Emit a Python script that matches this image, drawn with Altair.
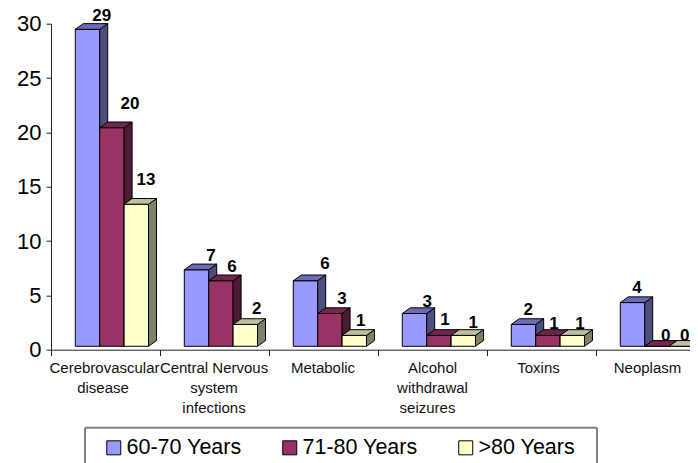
import altair as alt
import pandas as pd

category_lines = [["Cerebrovascular", "disease"], ["Central  Nervous", "system", "infections"], ["Metabolic"],
                  ["Alcohol", "withdrawal", "seizures"], ["Toxins"], ["Neoplasm"]]
# small pixel shifts of each line from its category centre
line_shift = [[-1, -2.5], [-0.5, -0.5, -0.5], [-0.5], [0, 0, -5], [-3], [-3]]
series = ["60-70 Years", "71-80 Years", ">80 Years"]
v1 = [29, 7, 6, 3, 2, 4]
v2 = [20, 6, 3, 1, 1, 0]
v3 = [13, 2, 1, 1, 1, 0]
values = [v1, v2, v3]

fronts = ["#9999FF", "#993366", "#FFFFCC"]
sides = ["#4D4D80", "#4D1A33", "#808066"]
tops = ["#6B6BB8", "#73264D", "#BFBF99"]

# label nudges from each bar's front top centre, in pixels
label_dx = [[14.2, 14.5, 19.5, 12.8, 4.8, 4.5], [18.1, 11, 12, 6, 6, 8.8], [9.7, 11.4, 6.4, 10, 7.7, 3.5]]
label_dy = [[-8.3, -8.8, -11.7, -6.8, -9.4, -9.9], [-18.7, -8.7, -9.5, -10.4, -6.4, -5.6], [-19.2, -10.4, -9.4, -7.7, -6.4, -5.6]]

STEP = 109.0
W, H = 639, 326
YPX = H / 30
BAR_PX = 10.93          # pixels per unit on the front plane
BASE = 3.4 / YPX        # front plane sits above the axis
DX, DY = 8 / STEP, 5.7 / YPX
BW = 24.4 / STEP
START = 24.3 / STEP

front, side, top, labels = [], [], [], []
for j, vals in enumerate(values):
    for i, v in enumerate(vals):
        x0 = i + START + j * BW
        x1 = x0 + BW
        t = v * BAR_PX / YPX + BASE
        b = BASE
        bar = f"{j}-{i}"
        front += [dict(s=series[j], j=j, bar=bar, x=x0, y=t, y2=b), dict(s=series[j], j=j, bar=bar, x=x1, y=t, y2=b)]
        side += [dict(j=j, bar=bar, x=x1, y=t, y2=b), dict(j=j, bar=bar, x=x1 + DX, y=t + DY, y2=b + DY)]
        top += [dict(j=j, bar=bar, x=x0, y=t, y2=t), dict(j=j, bar=bar, x=x0 + DX, y=t, y2=t + DY),
                dict(j=j, bar=bar, x=x1, y=t, y2=t + DY), dict(j=j, bar=bar, x=x1 + DX, y=t + DY, y2=t + DY)]
        labels.append(dict(x=(x0 + x1) / 2 + label_dx[j][i] / STEP, y=t - label_dy[j][i] / YPX, t=str(v)))

front, side, top = map(pd.DataFrame, (front, side, top))
xs = alt.Scale(domain=[0, W / STEP], nice=False, zero=False)
ys = alt.Scale(domain=[0, 30], nice=False)
X = alt.X("x:Q", scale=xs, axis=alt.Axis(values=list(range(6)), labels=False, title=None, grid=False,
                                         tickSize=6, tickColor="#222", domainColor="#222"))
Y = alt.Y("y:Q", scale=ys, axis=alt.Axis(values=[0, 5, 10, 15, 20, 25, 30], title=None, grid=False,
                                         tickSize=5, tickColor="#222", domainColor="#222", labelFontSize=22,
                                         labelFont="Liberation Sans", labelColor="#000", labelPadding=5))

layers = []
for j in range(3):
    layers.append(alt.Chart(front[front.j == j]).mark_area(stroke="black", strokeWidth=1, interpolate="linear").encode(
        x=X, y=Y, y2="y2:Q", detail="bar:N",
        fill=alt.Fill("s:N", scale=alt.Scale(domain=series, range=fronts),
                      legend=alt.Legend(title=None, orient="none", legendX=52, legendY=413, direction="horizontal",
                                        columns=3, symbolType="square", symbolSize=196, symbolStrokeColor="black",
                                        symbolStrokeWidth=1, labelFontSize=21.5, labelFont="Liberation Sans",
                                        labelColor="#000", labelOffset=2, columnPadding=37, padding=0, labelLimit=200))))
    layers.append(alt.Chart(side[side.j == j]).mark_area(color=sides[j], stroke="black", strokeWidth=1, interpolate="linear").encode(
        x=X, y=Y, y2="y2:Q", detail="bar:N"))
    layers.append(alt.Chart(top[top.j == j]).mark_area(color=tops[j], stroke="black", strokeWidth=1, interpolate="linear").encode(
        x=X, y=Y, y2="y2:Q", detail="bar:N"))

label_layer = alt.Chart(pd.DataFrame(labels)).mark_text(font="Liberation Sans", fontSize=17, fontWeight="bold",
                                                        color="black", baseline="alphabetic", align="center", clip=False).encode(
    x=alt.X("x:Q", scale=xs), y=alt.Y("y:Q", scale=ys), text="t:N")

cat_rows = [dict(x=i + 0.5 + line_shift[i][n] / STEP, n=n, t=line)
            for i, lines in enumerate(category_lines) for n, line in enumerate(lines)]
cat_df = pd.DataFrame(cat_rows)
cat_layers = [
    alt.Chart(cat_df[cat_df.n == n]).mark_text(font="Liberation Sans", fontSize=15, color="#111",
                                               baseline="alphabetic", align="center").encode(
        x=alt.X("x:Q", scale=xs), y=alt.value(349.3 + 20 * n), text="t:N")
    for n in range(3)
]

box = "#808080"
box_top = alt.Chart(pd.DataFrame({"a": [0]})).mark_rule(color=box, strokeWidth=2).encode(
    x=alt.value(34), x2=alt.value(546), y=alt.value(404))
box_l = alt.Chart(pd.DataFrame({"a": [0]})).mark_rule(color=box, strokeWidth=2).encode(
    x=alt.value(34), y=alt.value(404), y2=alt.value(445))
box_r = alt.Chart(pd.DataFrame({"a": [0]})).mark_rule(color=box, strokeWidth=2).encode(
    x=alt.value(546), y=alt.value(404), y2=alt.value(445))

chart = alt.layer(*layers, label_layer, *cat_layers, box_top, box_l, box_r).resolve_scale(fill="shared").properties(
    width=W, height=H,
    autosize=alt.AutoSizeParams(type="none", contains="content"),
    padding={"left": 43, "top": 15.7, "right": 0, "bottom": 113},
).configure_view(stroke=None)

chart.save("out.html", embed_options={"renderer": "svg", "actions": False})
